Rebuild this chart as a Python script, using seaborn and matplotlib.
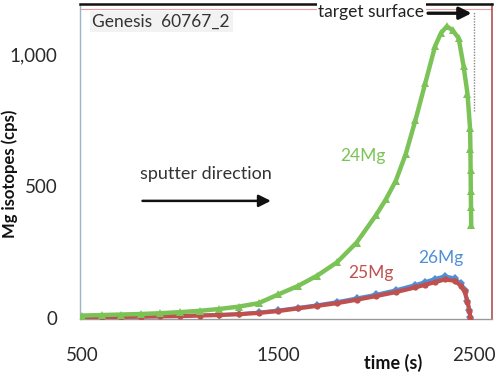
import numpy as np
import pandas as pd
import matplotlib
matplotlib.use("Agg")
import matplotlib.pyplot as plt
import seaborn as sns

# values
time_g = [500, 600, 700, 800, 900, 1000, 1100, 1200, 1300, 1400, 1500, 1600, 1700,
          1800, 1900, 2000, 2050, 2100, 2150, 2200, 2250, 2300, 2330, 2360, 2390,
          2420, 2445, 2465, 2478, 2480, 2481, 2482, 2483, 2484]
mg24 = [8, 10, 12, 14, 17, 21, 26, 33, 42, 55, 88, 120, 160, 210, 285, 390, 450,
        520, 620, 750, 890, 1030, 1080, 1105, 1090, 1060, 955, 850, 720, 640, 560,
        480, 420, 350]

time_rb = [500, 600, 700, 800, 900, 1000, 1100, 1200, 1300, 1400, 1500, 1600, 1700,
           1800, 1900, 2000, 2100, 2200, 2250, 2300, 2350, 2400, 2430, 2450, 2465,
           2475, 2480]
mg25 = [2, 2, 3, 4, 5, 6, 8, 10, 13, 18, 25, 35, 45, 55, 68, 82, 97, 115, 125,
        135, 145, 140, 122, 100, 60, 25, 0]
mg26 = [2, 2, 3, 4, 5, 7, 9, 11, 14, 20, 28, 38, 48, 60, 74, 88, 105, 125, 136,
        148, 158, 150, 130, 105, 65, 28, 2]

xticks = [500, 1500, 2500]
yticks = [0, 500, 1000]
ytick_labels = ["0", "500", "1,000"]

green = "#7CC357"
red = "#C0504D"
blue = "#4F8FD6"

sns.set_style("white")
plt.rcParams['font.family'] = ['Lato', 'DejaVu Sans']

fig = plt.figure(figsize=(4.95, 3.74), dpi=100)
ax = fig.add_axes([80/495, 1-319/374, 412/495, 315/374])

df_g = pd.DataFrame({"time": time_g, "cps": mg24})
df_rb = pd.DataFrame({"time": time_rb, "mg25": mg25, "mg26": mg26})

sns.lineplot(data=df_rb, x="time", y="mg26", ax=ax, color=blue, lw=2.5,
             marker="D", markersize=4, markeredgewidth=0, zorder=2)
sns.lineplot(data=df_rb, x="time", y="mg25", ax=ax, color=red, lw=3,
             marker="o", markersize=4.5, markeredgewidth=0, zorder=3)
sns.lineplot(data=df_g, x="time", y="cps", ax=ax, color=green, lw=3.2,
             marker="^", markersize=6, markeredgewidth=0, zorder=4)

ax.set_xlim(490, 2590)
ax.set_ylim(-5, 1190)
ax.set_xticks(xticks)
ax.set_yticks(yticks)
ax.set_yticklabels(ytick_labels)
ax.tick_params(length=0, labelsize=13.5, colors="#2a2a2a")
ax.tick_params(axis="y", pad=16)
ax.tick_params(axis="x", pad=20)

ax.set_xlabel("time (s)", fontsize=13, fontweight="bold", color="#111111")
ax.xaxis.set_label_coords(0.76, -0.11)
ax.set_ylabel("Mg isotopes (cps)", fontsize=12, fontweight="bold", color="#111111")
ax.yaxis.set_label_coords(-0.15, 0.46)

for side, c, w in [("top", "#111111", 1.8), ("right", "#B05050", 1.2),
                   ("left", "#9DB3C8", 1.0), ("bottom", "#999999", 1.0)]:
    ax.spines[side].set_color(c)
    ax.spines[side].set_linewidth(w)
ax.plot([0, 1], [0.985, 0.985], transform=ax.transAxes, color="#E8A0A0", lw=0.8)

# target surface marker
ax.axvline(2500, ymin=0.66, ymax=0.975, color="#888888", lw=1, ls=(0, (1, 1)))

ax.text(0.03, 0.945, "Genesis  60767_2", transform=ax.transAxes, fontsize=12.5,
        color="#333333", va="center", ha="left",
        bbox=dict(facecolor="#F2F2F2", edgecolor="none", pad=2))
ax.annotate("", xy=(2500, 1155), xytext=(2250, 1155),
            arrowprops=dict(arrowstyle="-|>", color="#111111", lw=2.4,
                            mutation_scale=18))
ax.text(2245, 1160, "target surface", fontsize=12.5, color="#222222", ha="right",
        va="center", bbox=dict(facecolor="white", edgecolor="none", pad=1))

ax.text(0.145, 0.46, "sputter direction", transform=ax.transAxes, fontsize=13,
        color="#333333", ha="left", va="center")
ax.annotate("", xy=(0.47, 0.375), xytext=(0.145, 0.375), xycoords="axes fraction",
            arrowprops=dict(arrowstyle="-|>", color="#111111", lw=1.8,
                            mutation_scale=18))

ax.text(1934, 615, "24Mg", color=green, fontsize=12.5, ha="center", va="center")
ax.text(1975, 170, "25Mg", color=red, fontsize=12.5, ha="center", va="center")
ax.text(2327, 226, "26Mg", color=blue, fontsize=12.5, ha="center", va="center")

fig.savefig("out.png", dpi=100)
